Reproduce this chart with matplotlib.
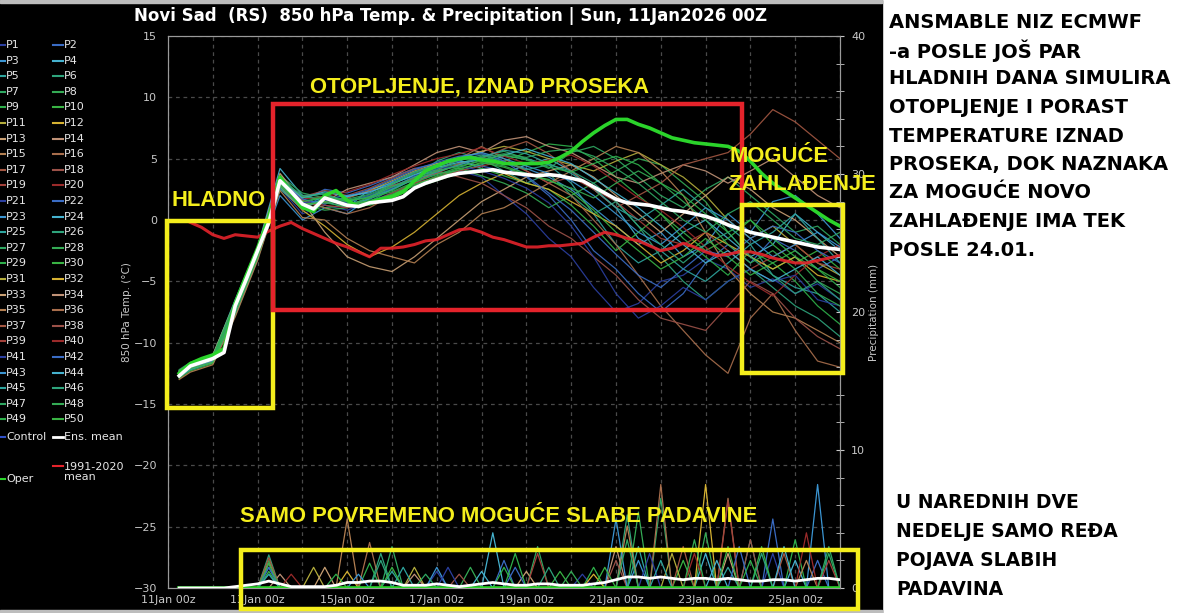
import numpy as np
import matplotlib.pyplot as plt
from matplotlib.patches import Rectangle
from matplotlib.lines import Line2D

W, H = 1200, 613

# ---- data (850 hPa temp in C, precip in mm/6h) ----
hours6 = list(range(6, 361, 6))
hours12 = list(range(12, 361, 12))
clim_hours = list(range(12, 361, 6))

ens_mean = [-12.7, -11.9, -11.6, -11.3, -10.8, -7.0, -4.8, -2.5, -0.2, 3.2,
            2.3, 1.3, 0.9, 1.8, 1.5, 1.2, 1.1, 1.4, 1.5, 1.6,
            1.9, 2.6, 3.0, 3.3, 3.6, 3.8, 3.9, 4.0, 4.1, 3.9,
            3.8, 3.7, 3.6, 3.7, 3.6, 3.4, 3.2, 2.7, 2.2, 1.7,
            1.4, 1.3, 1.2, 1.0, 0.8, 0.7, 0.5, 0.3, 0.0, -0.4,
            -0.7, -1.0, -1.2, -1.4, -1.6, -1.8, -2.0, -2.2, -2.3, -2.4]

oper = [-12.5, -11.7, -11.3, -11.0, -10.5, -6.8, -4.5, -2.3, 0.2, 3.5,
        2.2, 1.0, 0.7, 2.0, 2.4, 1.6, 1.1, 1.4, 1.7, 1.9,
        2.3, 3.2, 4.0, 4.4, 4.8, 5.0, 5.1, 4.9, 4.8, 4.6,
        4.6, 4.6, 4.6, 4.7, 5.1, 5.6, 6.4, 7.1, 7.7, 8.2,
        8.2, 7.8, 7.5, 7.1, 6.7, 6.5, 6.3, 6.2, 6.1, 6.0,
        5.6, 4.8, 3.8, 3.0, 2.4, 1.8, 1.2, 0.6, 0.0, -0.5]

clim_1991_2020 = [-0.2, -0.6, -1.2, -1.5, -1.2, -1.3, -1.4, -0.9, -0.5,
                  -0.2, -0.7, -1.1, -1.5, -1.9, -2.2, -2.6, -3.0, -2.3, -2.3,
                  -2.2, -2.0, -1.7, -1.6, -1.2, -0.8, -0.7, -1.0, -1.4, -1.6,
                  -1.9, -2.2, -2.2, -2.1, -2.1, -2.0, -1.9, -1.4, -1.0, -1.2,
                  -1.5, -1.7, -2.1, -2.5, -2.3, -1.9, -2.2, -2.6, -2.9, -2.8,
                  -2.6, -2.6, -2.8, -3.1, -3.3, -3.5, -3.5, -3.3, -3.1, -2.9]

members_temp = [
    [-12.1, -11.4, -7.2, -2.8, 2.6, 0.5, 1.2, 0.8, 1.5, 2.2, 3.0, 3.8, 4.0, 3.5, 2.0, 0.5, -1.5, -3.0, -5.5, -7.5, -6.8, -5.0, -4.5, -3.2, -4.0, -5.5, -4.8, -6.0, -5.2, -6.5],
    [-11.8, -11.2, -6.8, -2.4, 3.0, 1.6, 2.5, 2.2, 2.8, 3.5, 4.2, 4.6, 4.8, 4.4, 4.0, 3.5, 2.0, 0.0, -2.5, -4.0, -6.0, -7.5, -6.0, -3.5, -2.0, -3.5, -1.5, -2.5, -4.0, -3.0],
    [-12.0, -11.5, -7.5, -3.0, 2.0, 0.0, 1.0, 0.5, 1.8, 2.6, 3.5, 4.0, 4.5, 5.0, 4.6, 4.2, 3.5, 2.5, 1.0, -0.5, -2.0, -1.0, -3.0, -2.0, 0.5, -1.0, 1.5, 2.0, 0.5, -1.5],
    [-11.7, -11.1, -6.5, -2.2, 4.2, 2.0, 1.5, 1.0, 2.5, 3.0, 3.6, 4.4, 4.9, 4.2, 3.8, 4.5, 5.0, 4.0, 2.5, 1.0, -1.5, -2.5, -1.0, 0.0, -1.5, -3.0, -2.0, 0.5, -1.0, -2.5],
    [-12.2, -11.6, -7.8, -3.2, 2.5, 1.0, 2.0, 1.5, 2.0, 2.8, 3.2, 3.8, 4.0, 4.5, 5.2, 5.0, 4.5, 3.0, 0.5, -2.0, -3.5, -2.5, -4.0, -5.0, -3.5, -2.0, -4.5, -5.5, -6.0, -7.5],
    [-11.9, -11.3, -7.0, -2.6, 3.3, 1.8, 2.2, 1.2, 1.5, 2.5, 3.5, 4.8, 5.5, 5.0, 4.0, 3.0, 3.8, 2.0, 0.5, 1.5, -0.5, -3.0, -5.0, -6.5, -5.0, -4.0, -5.5, -7.0, -8.0, -9.5],
    [-11.6, -11.0, -6.6, -2.2, 3.6, 2.2, 1.8, 1.6, 2.0, 2.4, 3.4, 4.2, 4.6, 5.2, 5.6, 5.0, 4.2, 5.5, 6.0, 5.0, 3.5, 2.0, 1.0, 2.5, 3.5, 2.0, 0.5, -1.0, -0.5, -2.0],
    [-12.0, -11.5, -7.4, -2.9, 2.9, 1.2, 0.8, 1.0, 1.8, 3.0, 3.8, 4.4, 4.2, 3.6, 3.0, 2.2, 1.0, 2.0, 3.0, 4.0, 5.0, 4.5, 3.0, 1.5, -1.0, -3.0, -4.0, -3.0, -5.0, -6.0],
    [-11.8, -11.2, -6.9, -2.5, 3.1, 1.5, 1.0, 1.2, 1.6, 2.0, 2.8, 3.6, 4.2, 4.6, 4.8, 5.5, 6.2, 6.0, 5.0, 3.5, 2.0, 0.5, -1.5, -3.0, -4.5, -2.5, -3.5, -5.0, -7.0, -8.5],
    [-12.3, -11.7, -7.6, -3.1, 2.8, 1.3, 2.0, 1.4, 1.2, 1.8, 2.6, 3.2, 3.8, 4.2, 3.6, 3.0, 2.5, 1.2, -0.5, -2.5, -1.0, 0.5, -1.0, -2.5, -1.5, 0.0, -2.0, -3.5, -2.5, -4.0],
    [-11.9, -11.4, -7.1, -2.7, 3.2, 1.0, 1.6, 1.8, 2.4, 3.2, 4.0, 4.6, 5.0, 5.6, 6.0, 5.6, 5.0, 4.5, 4.0, 4.8, 5.5, 4.5, 3.5, 2.0, 0.0, -1.5, -0.5, -2.0, -3.5, -4.5],
    [-12.1, -11.6, -7.3, -2.9, 2.7, 0.8, -0.5, -2.0, -3.0, -2.2, -1.0, 0.5, 2.0, 3.0, 3.8, 3.0, 2.5, 1.5, 0.5, -0.5, -2.0, -3.5, -2.5, -1.0, -2.0, -3.0, -4.0, -3.0, -4.5, -5.0],
    [-11.7, -11.0, -6.7, -2.3, 3.8, 1.5, -1.0, -3.0, -3.8, -4.2, -3.0, -1.5, 0.0, 1.5, 2.5, 3.5, 4.0, 4.5, 3.5, 2.0, 0.5, -1.0, 0.5, 2.0, 3.5, 2.5, 1.0, 0.0, -1.5, -3.0],
    [-12.0, -11.4, -7.2, -2.6, 3.0, 1.2, 1.5, 2.5, 3.0, 3.5, 4.5, 5.5, 6.0, 5.5, 6.5, 6.8, 6.0, 5.5, 4.5, 3.5, 3.0, 3.8, 4.5, 4.0, 3.0, 4.0, 5.0, 3.5, 2.0, 1.0],
    [-12.4, -11.8, -7.9, -3.3, 2.4, 0.2, 0.0, -1.5, -2.5, -3.0, -3.5, -2.0, -1.0, 0.5, 1.0, 2.0, 3.0, 4.0, 5.0, 6.0, 5.5, 4.0, 2.0, -1.0, -4.0, -6.0, -7.5, -8.0, -9.0, -10.0],
    [-11.8, -11.3, -7.0, -2.5, 3.4, 1.6, 1.0, 0.5, 1.0, 2.0, 3.0, 4.0, 5.0, 6.0, 5.0, 4.0, 3.0, 2.0, 0.0, -2.0, -4.5, -7.0, -9.0, -11.0, -12.5, -8.0, -6.0, -9.0, -11.5, -12.0],
    [-12.1, -11.5, -7.3, -2.8, 2.9, 0.8, 1.4, 1.8, 2.4, 2.8, 3.4, 3.8, 4.6, 5.0, 5.8, 6.4, 5.4, 4.0, 2.5, 1.0, 2.0, 3.0, 4.5, 5.0, 5.5, 7.0, 9.0, 8.0, 6.5, 5.0],
    [-11.9, -11.2, -6.8, -2.4, 3.3, 1.9, 2.4, 2.0, 2.6, 3.4, 4.2, 4.0, 3.5, 3.0, 2.0, 1.0, -0.5, -1.5, -3.0, -4.5, -6.5, -8.0, -8.5, -9.0, -7.0, -5.0, -6.0, -8.0, -9.5, -10.5],
    [-12.0, -11.5, -7.0, -2.7, 3.0, 1.4, 1.2, 1.0, 1.4, 2.2, 3.0, 3.5, 4.0, 4.4, 4.8, 4.0, 3.0, 3.5, 2.5, 1.5, 0.0, -1.5, -2.0, -1.0, -2.5, -4.0, -3.0, -2.0, -3.5, -4.0],
    [-11.8, -11.3, -6.9, -2.5, 3.1, 1.7, 1.9, 2.3, 2.9, 3.7, 4.4, 5.0, 5.4, 5.9, 5.2, 4.6, 4.9, 5.3, 4.4, 3.1, 1.8, 0.8, -0.6, -2.2, -3.8, -5.1, -6.2, -4.5, -3.0, -2.0],
    [-12.0, -11.4, -7.1, -2.6, 3.1, 1.4, 1.6, 1.4, 2.0, 2.6, 3.6, 4.2, 4.4, 4.0, 3.4, 2.6, 1.4, -0.5, -3.0, -6.0, -8.0, -7.0, -5.5, -6.5, -5.0, -4.0, -5.0, -4.5, -6.5, -7.0],
    [-11.9, -11.3, -6.9, -2.5, 3.2, 1.7, 1.3, 1.9, 2.5, 3.3, 4.1, 4.7, 5.2, 5.4, 4.8, 3.6, 2.2, 0.8, -1.0, -2.8, -4.5, -5.5, -4.0, -2.5, -3.0, -1.5, -0.5, -1.0, -2.5, -3.5],
    [-12.1, -11.5, -7.2, -2.7, 3.0, 1.1, 1.7, 2.0, 2.2, 3.1, 3.9, 4.5, 5.1, 5.5, 5.0, 4.4, 3.8, 3.2, 2.0, 0.5, -1.0, -2.0, -0.5, 1.0, 0.0, -1.5, -3.0, -2.0, -1.0, -2.2],
    [-11.8, -11.2, -6.8, -2.4, 3.4, 1.8, 2.3, 1.9, 2.3, 2.9, 3.7, 4.3, 4.7, 4.9, 5.3, 5.8, 5.2, 4.6, 3.4, 2.2, 1.0, -0.5, -2.0, -3.5, -2.5, -4.0, -5.0, -4.0, -3.0, -4.5],
    [-12.2, -11.6, -7.5, -3.0, 2.7, 0.9, 1.8, 1.3, 1.7, 2.5, 3.3, 3.9, 4.5, 5.1, 5.7, 5.4, 4.6, 3.8, 2.6, 1.0, 0.0, 1.2, 2.5, 1.0, -0.5, -2.0, -1.0, 0.5, -1.5, -3.5],
    [-11.9, -11.3, -7.0, -2.6, 3.3, 2.0, 2.1, 1.5, 1.9, 2.7, 3.5, 4.1, 4.9, 5.3, 4.7, 4.1, 4.5, 4.0, 3.0, 1.5, -0.5, -2.0, -3.5, -2.0, -1.0, -3.0, -4.5, -6.0, -5.0, -6.5],
    [-11.7, -11.1, -6.7, -2.3, 3.5, 1.9, 1.7, 1.7, 2.1, 2.9, 3.9, 4.5, 4.9, 5.1, 5.4, 5.1, 5.6, 5.8, 5.2, 4.2, 3.0, 1.5, 0.0, -1.0, 0.5, 1.5, 0.0, -1.5, -2.0, -1.0],
    [-12.0, -11.4, -7.3, -2.8, 2.9, 1.3, 1.4, 1.1, 1.9, 2.7, 3.3, 4.0, 4.4, 4.8, 4.4, 3.8, 3.2, 2.6, 1.8, 3.0, 4.0, 3.0, 1.5, 0.0, -2.0, -3.5, -2.5, -4.0, -6.0, -7.0],
    [-11.8, -11.2, -6.9, -2.5, 3.0, 1.5, 1.9, 1.6, 1.8, 2.3, 3.1, 3.7, 4.3, 4.9, 5.3, 4.9, 4.3, 3.9, 4.6, 5.2, 4.5, 3.0, 2.0, 0.5, -1.0, 0.0, -1.5, -3.0, -4.0, -5.5],
    [-12.1, -11.6, -7.4, -3.0, 2.8, 1.2, 1.5, 1.3, 1.5, 2.1, 2.9, 3.5, 4.1, 4.7, 4.3, 3.7, 3.3, 2.3, 0.8, -1.0, -2.5, -4.0, -3.0, -1.5, -3.0, -4.5, -3.5, -2.5, -4.0, -5.0],
]

member_colors = ['#2b3fa0', '#3a6cc4', '#3b95d2', '#45b2cf', '#2ea59e',
                 '#2ea47c', '#2fa862', '#34ab55', '#2eb04b', '#39b344',
                 '#b4ad3c', '#d6b232', '#c9a074', '#c09277', '#b48052',
                 '#a86e4c', '#a35742', '#9b5148', '#a3413a', '#9a2a2a']

# precipitation spikes per member: (hour, mm)
member_rain = [
    [(144, 1.2), (222, 1.0), (324, 2.5)],
    [(54, 1.0), (180, 2.0), (324, 5.0), (348, 2.0)],
    [(144, 1.5), (252, 2.0), (348, 7.5)],
    [(174, 4.0), (288, 2.5), (336, 2.0)],
    [(54, 1.5), (120, 1.2), (252, 3.0), (300, 1.5)],
    [(54, 2.4), (114, 2.5), (246, 5.3), (312, 3.5)],
    [(120, 3.0), (198, 3.0), (264, 6.5), (354, 2.5)],
    [(54, 2.0), (162, 1.5), (252, 5.5), (288, 4.0)],
    [(108, 1.8), (180, 1.5), (228, 1.5), (336, 3.5)],
    [(54, 1.2), (210, 1.2), (276, 2.0), (318, 3.0)],
    [(78, 1.5), (132, 1.5), (270, 2.5)],
    [(54, 1.8), (96, 1.2), (228, 1.0), (288, 7.5)],
    [(84, 1.5), (192, 1.2), (300, 2.5)],
    [(60, 1.0), (132, 1.0), (240, 3.0)],
    [(96, 5.0), (246, 4.5), (342, 2.0)],
    [(108, 3.3), (264, 7.5), (300, 6.5)],
    [(54, 2.2), (276, 3.0), (330, 2.5)],
    [(156, 1.0), (240, 2.0), (312, 3.5)],
    [(198, 2.5), (300, 6.3), (354, 2.0)],
    [(66, 1.0), (282, 2.5), (342, 4.0)],
    [(150, 1.5), (258, 2.5)],
    [(54, 1.5), (186, 1.5), (306, 3.0)],
    [(102, 1.0), (240, 5.0)],
    [(168, 1.2), (294, 2.0), (330, 3.0)],
    [(54, 1.0), (126, 1.5), (264, 2.0)],
    [(114, 2.0), (204, 1.5), (318, 2.5)],
    [(138, 1.0), (246, 3.5), (354, 3.0)],
    [(54, 1.8), (216, 1.2), (282, 3.5)],
    [(90, 1.0), (186, 2.5), (312, 2.0)],
    [(120, 1.5), (234, 1.5), (300, 3.0)],
]

mean_rain = [0, 0, 0, 0, 0, 0.1, 0.2, 0.3, 0.5, 0.3,
             0.1, 0.1, 0.1, 0.1, 0.2, 0.4, 0.4, 0.5, 0.5, 0.4,
             0.2, 0.2, 0.2, 0.3, 0.2, 0.1, 0.2, 0.3, 0.4, 0.3,
             0.2, 0.2, 0.3, 0.3, 0.2, 0.2, 0.2, 0.3, 0.4, 0.6,
             0.8, 0.8, 0.7, 0.8, 0.7, 0.6, 0.7, 0.7, 0.6, 0.7,
             0.6, 0.5, 0.5, 0.6, 0.6, 0.5, 0.6, 0.7, 0.7, 0.6]

day_ticks = [0, 48, 96, 144, 192, 240, 288, 336]
day_labels = ['11Jan 00z', '13Jan 00z', '15Jan 00z', '17Jan 00z',
              '19Jan 00z', '21Jan 00z', '23Jan 00z', '25Jan 00z']

right_text = ['ANSMABLE NIZ ECMWF', '-a POSLE JOŠ PAR', 'HLADNIH DANA SIMULIRA',
              'OTOPLJENJE I PORAST', 'TEMPERATURE IZNAD', 'PROSEKA, DOK NAZNAKA',
              'ZA MOGUĆE NOVO', 'ZAHLAĐENJE IMA TEK', 'POSLE 24.01.']
right_text2 = ['U NAREDNIH DVE', 'NEDELJE SAMO REĐA', 'POJAVA SLABIH', 'PADAVINA']

YEL = '#f4ee1c'
RED = '#e5232b'
GRAY = '#c8c8c8'


def fx(x):
    return x / W


def fy(y):
    return 1 - y / H


fig = plt.figure(figsize=(12, 6.13), dpi=100)
fig.patch.set_facecolor('white')
fig.add_artist(Rectangle((0, 0), fx(882), 1, transform=fig.transFigure,
                         color='black', zorder=-10))
fig.add_artist(Rectangle((0, fy(3)), fx(882), 3 / H, transform=fig.transFigure,
                         color='#bdbdbd', zorder=-9))
fig.add_artist(Rectangle((0, 0), fx(882), 3 / H, transform=fig.transFigure,
                         color='#bdbdbd', zorder=-9))

ax = fig.add_axes([fx(168), fy(588), 672 / W, 552 / H])
ax.set_facecolor('black')
ax2 = ax.twinx()

# members
for i, temps in enumerate(members_temp):
    col = member_colors[i % 20]
    ax.plot([6] + hours12, [temps[0] - 0.6] + temps, color=col, lw=0.9, alpha=0.9, zorder=2)
ax.plot(clim_hours, clim_1991_2020, color=RED, lw=2.2, zorder=3, alpha=0.9)
ax.plot(hours6, oper, color='#2bd42b', lw=2.6, zorder=4)
ax.plot(hours6, ens_mean, color='white', lw=2.6, zorder=5)

# precipitation
for i, events in enumerate(member_rain):
    rain = np.zeros(len(hours6))
    for h, mm in events:
        rain[hours6.index(h)] = mm
    ax2.plot(hours6, rain, color=member_colors[i % 20], lw=0.9, zorder=2)
ax2.plot(hours6, np.zeros(len(hours6)), color='#2bd42b', lw=2.6, zorder=3)
ax2.plot(hours6, mean_rain, color='white', lw=2.0, zorder=4)

ax.set_xlim(0, 360)
ax.set_ylim(-30, 15)
ax2.set_ylim(0, 40)
ax.set_xticks(day_ticks)
ax.set_xticklabels(day_labels)
ax.set_xticks(range(0, 361, 24), minor=True)
ax.set_yticks(range(-30, 16, 5))
ax2.set_yticks(range(0, 41, 10))
ax2.set_yticks(range(0, 41, 2), minor=True)
ax.grid(True, which='both', axis='x', color='#4a4a4a', ls=(0, (3, 3)), lw=0.9)
ax.grid(True, which='major', axis='y', color='#4a4a4a', ls=(0, (3, 3)), lw=0.9)
ax.tick_params(axis='x', which='both', length=0, colors=GRAY, labelsize=8, pad=5)
ax.tick_params(axis='y', length=0, colors=GRAY, labelsize=8, pad=8)
ax2.tick_params(axis='y', which='both', direction='inout', length=6, colors=GRAY,
                labelsize=8, pad=5)
for a in (ax, ax2):
    for s in a.spines.values():
        s.set_color('#9a9a9a')
ax.set_ylabel('850 hPa Temp. (°C)', color=GRAY, fontsize=7.5, labelpad=1)
ax2.set_ylabel('Precipitation (mm)', color=GRAY, fontsize=7.5, labelpad=3)

fig.text(fx(451), fy(16), 'Novi Sad  (RS)  850 hPa Temp. & Precipitation | Sun, 11Jan2026 00Z',
         ha='center', va='center', color='white', fontsize=12, weight='bold')

# legend drawn by hand
def leg_entry(x, y, label, col, lw=1.5):
    fig.add_artist(Line2D([fx(x), fx(x + 10)], [fy(y), fy(y)], transform=fig.transFigure,
                          color=col, lw=lw))
    fig.text(fx(x + 11), fy(y), label, color='#e6e6e6', fontsize=8, va='center', ha='left')


for i in range(50):
    row, colm = divmod(i, 2)
    y = 45 + row * 15.6
    x = -5 if colm == 0 else 53
    leg_entry(x, y, f'P{i + 1}', member_colors[i % 20])
leg_entry(-5, 437, 'Control', '#3050c8')
leg_entry(53, 437, 'Ens. mean', 'white', lw=2)
leg_entry(-5, 479, 'Oper', '#2bd42b')
fig.add_artist(Line2D([fx(53), fx(63)], [fy(466), fy(466)], transform=fig.transFigure,
                      color=RED, lw=1.5))
fig.text(fx(64), fy(472), '1991-2020\nmean', color='#e6e6e6', fontsize=8, va='center',
         ha='left', linespacing=0.95)

# annotation boxes
def box(x0, y0, x1, y1, col):
    fig.add_artist(Rectangle((fx(x0), fy(y1)), (x1 - x0) / W, (y1 - y0) / H,
                             transform=fig.transFigure, fill=False, ec=col, lw=3.2, zorder=20))


box(167, 221, 273, 408, YEL)
box(273, 104, 742, 310, RED)
box(742, 205, 843, 373, YEL)
box(241, 550, 858, 609, YEL)

ann = dict(color=YEL, weight='bold', family='Liberation Sans', zorder=21, fontsize=15.8)
fig.text(fx(219), fy(201), 'HLADNO', ha='center', va='center', **ann)
fig.text(fx(479), fy(87), 'OTOPLJENJE, IZNAD PROSEKA', ha='center', va='center', **ann)
fig.text(fx(730), fy(156), 'MOGUĆE', ha='left', va='center', **ann)
fig.text(fx(728), fy(184), 'ZAHLAĐENJE', ha='left', va='center', **ann)
fig.text(fx(499), fy(516), 'SAMO POVREMENO MOGUĆE SLABE PADAVINE', ha='center',
         va='center', **ann)

for i, line in enumerate(right_text):
    fig.text(fx(889), fy(22 + i * 28.5), line, ha='left', va='center', color='black',
             fontsize=14, weight='bold', family='DejaVu Sans')
for i, line in enumerate(right_text2):
    fig.text(fx(896), fy(503 + i * 28.8), line, ha='left', va='center', color='black',
             fontsize=13.5, weight='bold', family='DejaVu Sans')

fig.savefig('out.png', dpi=100, facecolor=fig.get_facecolor())
